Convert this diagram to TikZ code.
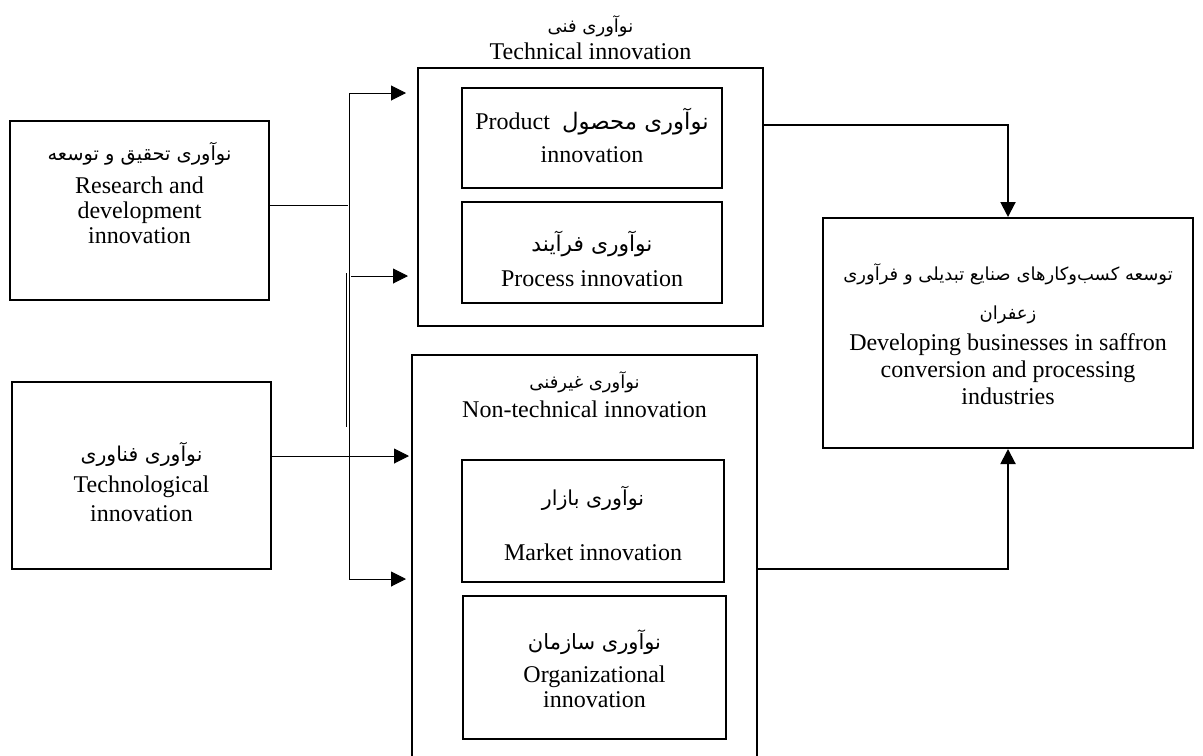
\documentclass[tikz,border=0pt]{standalone}
\usepackage{fontspec}
\setmainfont{Liberation Serif}
\newfontfamily\arabicfont[Script=Arabic]{DejaVu Sans}
\TeXXeTstate=1
\newcommand{\fatext}[2][9]{{\fontsize{#1}{#1}\selectfont\arabicfont\beginR #2\endR}}
\usetikzlibrary{arrows.meta}

\begin{document}
\begin{tikzpicture}[x=0.5pt,y=-0.5pt,
  box/.style={draw,line width=1pt,inner sep=0pt},
  txt/.style={align=center,font=\fontsize{12}{12.5}\selectfont,inner sep=0pt},
  link/.style={line width=0.5pt},
  arr/.style={line width=0.5pt,-{Triangle[length=7.5pt,width=7.5pt]}},
  goalarr/.style={line width=1pt,-{Triangle[length=7.5pt,width=7.5pt]}}]
\useasboundingbox (0,0) rectangle (1203,755);
% left inputs
\node[box,minimum width=129.5pt,minimum height=89.5pt] (rd) at (139.5,210.5) {};
\node[txt] (rdt) at (139.5,193) {\fatext[9.7]{نوآوری تحقیق و توسعه}\\[4pt]Research and\\development\\innovation};
\node[box,minimum width=129.5pt,minimum height=93.5pt] (tech) at (141.5,475.5) {};
\node[txt] (techt) at (141.5,482) {\fatext[10.2]{نوآوری فناوری}\\[3pt]Technological\\[2pt]innovation};
% technical innovation
\node[box,minimum width=172.5pt,minimum height=129pt] (tec) at (590.5,197) {};
\node[txt] (tect) at (590.5,38) {\fatext{نوآوری فنی}\\[1pt]Technical innovation};
\node[box,minimum width=130pt,minimum height=50pt] (prod) at (592,138) {};
\node[txt] (prodt) at (592,135) {Product~~\fatext[11.4]{نوآوری محصول}\\[4pt]innovation};
\node[box,minimum width=130pt,minimum height=50.5pt] (proc) at (592,252.5) {};
\node[txt] (proct) at (592,259) {\fatext[10.9]{نوآوری فرآیند}\\[5pt]Process innovation};
% non-technical innovation
\node[box,minimum width=172.5pt,minimum height=202.5pt] (nont) at (584.5,557.5) {};
\node[txt] (nontt) at (584.5,395) {\fatext{نوآوری غیرفنی}\\[2pt]Non-technical innovation};
\node[box,minimum width=131pt,minimum height=61pt] (mark) at (593,521) {};
\node[txt] (markt) at (593,523) {\fatext[10.3]{نوآوری بازار}\\[15pt]Market innovation};
\node[box,minimum width=131.5pt,minimum height=71.5pt] (org) at (594.5,667.5) {};
\node[txt] (orgt) at (594.5,669) {\fatext[10.5]{نوآوری سازمان}\\[4pt]Organizational\\innovation};
% goal
\node[box,minimum width=185pt,minimum height=115pt] (goal) at (1008,333) {};
\node[txt,font=\fontsize{12}{13.5}\selectfont] (goalt) at (1008,334) {\fatext{توسعه کسب‌وکارهای صنایع تبدیلی و فرآوری}\\[6pt]\fatext{زعفران}\\[2pt]Developing businesses in saffron\\conversion and processing\\industries};
% connectors
\coordinate (bt) at (349,93);
\coordinate (bb) at (349,579);
\coordinate (bp) at (351,276);
\coordinate (jr) at (348,205);
\coordinate (jt) at (349,456);
\coordinate (d1) at (346.5,273);
\coordinate (d2) at (346.5,427);
\coordinate (k1) at (1011,125);
\coordinate (k2) at (1011,569);
\draw[link] (bt) -- (bb);
\draw[link] (d1) -- (d2);
\draw[link] (rd.east |- jr) -- (jr);
\draw[arr,shorten >=5.5pt] (bt) -- (tec.west |- bt);
\draw[arr,shorten >=4.5pt] (bp) -- (tec.west |- bp);
\draw[arr,shorten >=1pt] (tech.east |- jt) -- (nont.west |- jt);
\draw[arr,shorten >=2.5pt] (bb) -- (nont.west |- bb);
\draw[goalarr] (tec.east |- k1) -| (goal.north);
\draw[goalarr] (nont.east |- k2) -| (goal.south);
\end{tikzpicture}
\end{document}
